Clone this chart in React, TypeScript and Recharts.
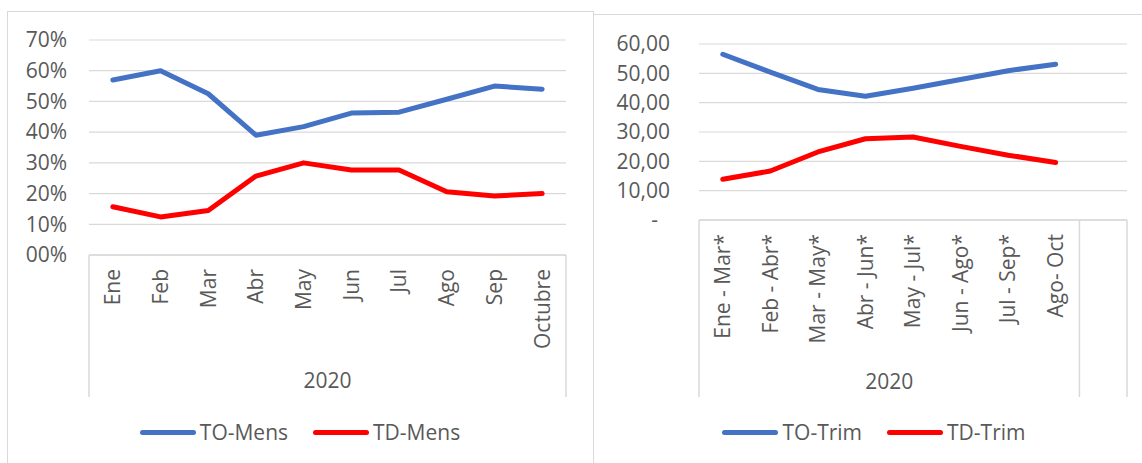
import { CartesianGrid, Line, LineChart, XAxis, YAxis } from "recharts";

// --- monthly chart data ---
const MONTHS = ["Ene", "Feb", "Mar", "Abr", "May", "Jun", "Jul", "Ago", "Sep", "Octubre"];
const TO_MENS = [57, 60, 52.5, 39, 41.8, 46.2, 46.5, 50.7, 55, 54];
const TD_MENS = [15.7, 12.4, 14.5, 25.7, 30, 27.7, 27.7, 20.6, 19.2, 20];
const PCT_TICKS = [0, 10, 20, 30, 40, 50, 60, 70];

// --- rolling quarter chart data (last category is an empty slot) ---
const QUARTERS = [
  "Ene - Mar*",
  "Feb - Abr*",
  "Mar - May*",
  "Abr - Jun*",
  "May - Jul*",
  "Jun - Ago*",
  "Jul - Sep*",
  "Ago- Oct",
  "",
];
const TO_TRIM = [56.5, 50.4, 44.5, 42.2, 44.9, 47.9, 50.9, 53.1];
const TD_TRIM = [13.9, 16.7, 23.2, 27.7, 28.3, 25.1, 22.1, 19.6];
const RATE_TICKS = [0, 10, 20, 30, 40, 50, 60];

const YEAR = "2020";

const BLUE = "#4472C4";
const RED = "#FF0000";
const GRID = "#D9D9D9";
const TEXT = "#595959";
const FONT = "'Open Sans', sans-serif";

// pos = band index, used by the hidden axis that draws the category box
const monthData = MONTHS.map((m, i) => ({ cat: m, pos: i + 0.5, to: TO_MENS[i], td: TD_MENS[i] }));
const quarterData = QUARTERS.map((q, i) => ({
  cat: q,
  pos: i + 0.5,
  to: TO_TRIM[i] ?? null,
  td: TD_TRIM[i] ?? null,
}));

const fmtPct = (v: number) => String(v).padStart(2, "0") + "%";
const fmtRate = (v: number) => (v === 0 ? "-" : v.toFixed(2).replace(".", ","));

function YTick({ x, y, payload, format }: any) {
  const v = payload.value as number;
  const label = format(v);
  return (
    <text
      x={x}
      y={y}
      dx={label === "-" ? -12 : 0}
      dy="0.35em"
      textAnchor="end"
      fill={TEXT}
      fontSize={21}
      fontFamily={FONT}
    >
      {label}
    </text>
  );
}

function CatTick({ x, y, payload }: any) {
  return (
    <text
      transform={`translate(${x},${y + 14}) rotate(-90)`}
      textAnchor="end"
      dy="0.35em"
      fill={TEXT}
      fontSize={21}
      fontFamily={FONT}
    >
      {payload.value}
    </text>
  );
}

// draws the outline of the category box and the year label under the ticks
function BoxTick({ x, y, payload, centers, lineLen, labelGap }: any) {
  const v = payload.value as number;
  if (centers.includes(v)) {
    return (
      <text
        x={x}
        y={y + labelGap}
        dy="0.35em"
        textAnchor="middle"
        fill={TEXT}
        fontSize={21}
        fontFamily={FONT}
      >
        {YEAR}
      </text>
    );
  }
  return <line x1={x} x2={x} y1={y - 1} y2={y + lineLen} stroke={GRID} strokeWidth={1.5} />;
}

function LegendRow({ items }: { items: { name: string; color: string }[] }) {
  return (
    <div
      style={{
        display: "flex",
        justifyContent: "center",
        gap: 25,
        fontFamily: FONT,
        fontSize: 21,
        color: TEXT,
        lineHeight: "28px",
      }}
    >
      {items.map((it) => (
        <div key={it.name} style={{ display: "flex", alignItems: "center", gap: 4 }}>
          <span
            style={{
              display: "inline-block",
              width: 56,
              height: 5,
              borderRadius: 3,
              background: it.color,
            }}
          />
          <span>{it.name}</span>
        </div>
      ))}
    </div>
  );
}

function MonthlyChart() {
  return (
    <LineChart
      width={584}
      height={451}
      data={monthData}
      margin={{ top: 28, right: 26, bottom: 0, left: 0 }}
    >
      <CartesianGrid vertical={false} stroke={GRID} strokeWidth={1.2} />
      <XAxis
        dataKey="cat"
        scale="band"
        height={1}
        interval={0}
        tickSize={0}
        tickMargin={0}
        tickLine={false}
        axisLine={{ stroke: GRID, strokeWidth: 1.5 }}
        tick={<CatTick />}
      />
      <XAxis
        xAxisId="box"
        dataKey="pos"
        type="number"
        domain={[0, MONTHS.length]}
        allowDataOverflow
        ticks={[0, 5, 10]}
        height={207}
        interval={0}
        tickSize={0}
        tickMargin={0}
        tickLine={false}
        axisLine={false}
        tick={<BoxTick centers={[5]} lineLen={141} labelGap={125} />}
      />
      <YAxis
        width={81}
        domain={[0, 70]}
        ticks={PCT_TICKS}
        interval={0}
        tickSize={0}
        tickMargin={22}
        tickLine={false}
        axisLine={false}
        tick={<YTick format={fmtPct} />}
      />
      <Line
        type="linear"
        dataKey="to"
        stroke={BLUE}
        strokeWidth={5}
        strokeLinecap="round"
        strokeLinejoin="round"
        dot={false}
        isAnimationActive={false}
      />
      <Line
        type="linear"
        dataKey="td"
        stroke={RED}
        strokeWidth={5}
        strokeLinecap="round"
        strokeLinejoin="round"
        dot={false}
        isAnimationActive={false}
      />
    </LineChart>
  );
}

function QuarterChart() {
  return (
    <LineChart
      width={560}
      height={448}
      data={quarterData}
      margin={{ top: 29, right: 27, bottom: 0, left: 0 }}
    >
      <CartesianGrid vertical={false} stroke={GRID} strokeWidth={1.2} />
      <XAxis
        dataKey="cat"
        scale="band"
        height={1}
        interval={0}
        tickSize={0}
        tickMargin={0}
        tickLine={false}
        axisLine={{ stroke: GRID, strokeWidth: 1.5 }}
        tick={<CatTick />}
      />
      <XAxis
        xAxisId="box"
        dataKey="pos"
        type="number"
        domain={[0, QUARTERS.length]}
        allowDataOverflow
        ticks={[0, 4, 8, 9]}
        height={242}
        interval={0}
        tickSize={0}
        tickMargin={0}
        tickLine={false}
        axisLine={false}
        tick={<BoxTick centers={[4]} lineLen={176} labelGap={161} />}
      />
      <YAxis
        width={105}
        domain={[0, 60]}
        ticks={RATE_TICKS}
        interval={0}
        tickSize={0}
        tickMargin={29}
        tickLine={false}
        axisLine={false}
        tick={<YTick format={fmtRate} />}
      />
      <Line
        type="linear"
        dataKey="to"
        stroke={BLUE}
        strokeWidth={5}
        strokeLinecap="round"
        strokeLinejoin="round"
        dot={false}
        isAnimationActive={false}
      />
      <Line
        type="linear"
        dataKey="td"
        stroke={RED}
        strokeWidth={5}
        strokeLinecap="round"
        strokeLinejoin="round"
        dot={false}
        isAnimationActive={false}
      />
    </LineChart>
  );
}

export default function App() {
  const border = `1.5px solid ${GRID}`;
  return (
    <div
      style={{
        position: "absolute",
        left: 0,
        top: 0,
        width: 1142,
        height: 463,
        overflow: "hidden",
        background: "#fff",
      }}
    >
      <div
        style={{
          position: "absolute",
          left: 7,
          top: 11,
          width: 585,
          height: 470,
          borderTop: border,
          borderLeft: border,
          borderRight: border,
        }}
      />
      <div
        style={{
          position: "absolute",
          left: 593,
          top: 14,
          width: 600,
          height: 470,
          borderTop: border,
          borderLeft: border,
        }}
      />
      <div style={{ position: "absolute", left: 8, top: 12 }}>
        <MonthlyChart />
      </div>
      <div style={{ position: "absolute", left: 594, top: 15 }}>
        <QuarterChart />
      </div>
      <div style={{ position: "absolute", left: 8, top: 418, width: 584 }}>
        <LegendRow
          items={[
            { name: "TO-Mens", color: BLUE },
            { name: "TD-Mens", color: RED },
          ]}
        />
      </div>
      <div style={{ position: "absolute", left: 594, top: 418, width: 560 }}>
        <LegendRow
          items={[
            { name: "TO-Trim", color: BLUE },
            { name: "TD-Trim", color: RED },
          ]}
        />
      </div>
    </div>
  );
}
